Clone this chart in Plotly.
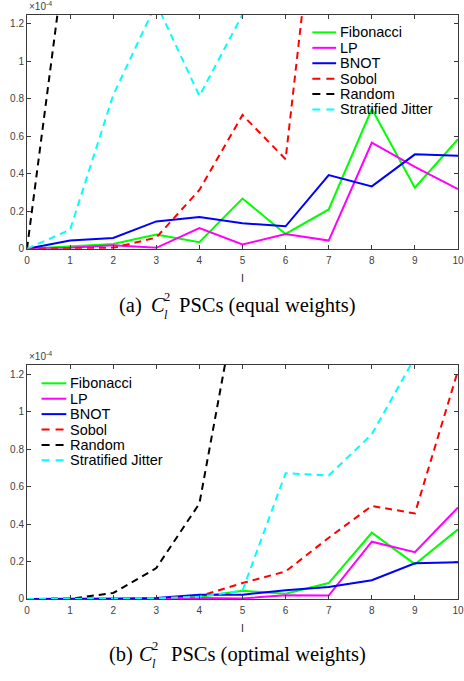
import plotly.graph_objects as go

# ---------------- data (values in units of 1e-4) ----------------
l_values = list(range(11))
series_names = ["Fibonacci", "LP", "BNOT", "Sobol", "Random", "Stratified Jitter"]
series_colors = ["#00FF00", "#FF00FF", "#0000FF", "#FF0000", "#000000", "#00FFFF"]
series_dashes = ["solid", "solid", "solid", "7px,5px", "7px,5px", "7px,5px"]

# (a) equal weights
fib_equal = [0, 0.012, 0.026, 0.076, 0.035, 0.268, 0.079, 0.21, 0.746, 0.326, 0.585]
lp_equal = [0, 0.005, 0.019, 0.005, 0.111, 0.023, 0.079, 0.044, 0.566, 0.437, 0.319]
bnot_equal = [0, 0.044, 0.058, 0.146, 0.169, 0.136, 0.12, 0.393, 0.333, 0.504, 0.497]
sobol_equal = [0, 0.001, 0.005, 0.06, 0.314, 0.714, 0.478, 2.51, None, None, None]
random_equal = [0, 1.77, None, None, None, None, None, None, None, None, None]
jitter_equal = [0, 0.102, 0.82, 1.31, 0.816, 1.25, None, None, None, None, None]

# (b) optimal weights
fib_opt = [0, 0, 0.001, 0.003, 0.01, 0.044, 0.028, 0.085, 0.354, 0.186, 0.372]
lp_opt = [0, 0, 0, 0.001, 0.005, 0.003, 0.02, 0.018, 0.306, 0.25, 0.489]
bnot_opt = [0, 0, 0.001, 0.005, 0.022, 0.023, 0.046, 0.064, 0.10, 0.191, 0.196]
sobol_opt = [0, 0, 0.001, 0.003, 0.015, 0.085, 0.147, 0.327, 0.497, 0.457, 1.221]
random_opt = [0, 0.001, 0.032, 0.165, 0.51, 1.76, None, None, None, None, None]
jitter_opt = [0, 0.001, 0.002, 0.004, 0.012, 0.045, 0.672, 0.66, 0.88, 1.29, None]

y_tickvals = [0, 0.2, 0.4, 0.6, 0.8, 1.0, 1.2]
y_ticktext = ["0", "0.2", "0.4", "0.6", "0.8", "1", "1.2"]

equal_series = [fib_equal, lp_equal, bnot_equal, sobol_equal, random_equal, jitter_equal]
opt_series = [fib_opt, lp_opt, bnot_opt, sobol_opt, random_opt, jitter_opt]

# ---------------- layout helpers ----------------
W, H = 464, 681
ML, MR = 27, 2
PW = W - ML - MR


def xp(px):
    return (px - ML) / PW


def yp(py):
    return (H - py) / H


fig = go.Figure()

for vals, name, col, dash in zip(equal_series, series_names, series_colors, series_dashes):
    fig.add_trace(go.Scatter(x=l_values, y=vals, mode="lines", name=name,
                             line=dict(color=col, width=2, dash=dash),
                             xaxis="x", yaxis="y", showlegend=False))
for vals, name, col, dash in zip(opt_series, series_names, series_colors, series_dashes):
    fig.add_trace(go.Scatter(x=l_values, y=vals, mode="lines", name=name,
                             line=dict(color=col, width=2, dash=dash),
                             xaxis="x2", yaxis="y2", showlegend=False))

axis_col = "#3a3a3a"
tick_font = dict(family="Liberation Sans", size=10, color="#404040")

xcommon = dict(range=[0, 10], tickvals=l_values, ticks="inside", ticklen=4,
               tickcolor=axis_col, showline=True, linecolor=axis_col, linewidth=1,
               mirror="ticks", showgrid=False, zeroline=False, tickfont=tick_font,
               ticklabeloverflow="allow", ticklabelstandoff=2,
               title=dict(text="l", font=dict(family="Liberation Sans", size=11, color="#262626"),
                          standoff=9))
ycommon = dict(range=[0, 1.25], tickvals=y_tickvals, ticktext=y_ticktext, ticks="inside",
               ticklen=4, tickcolor=axis_col, showline=True, linecolor=axis_col, linewidth=1,
               mirror="ticks", showgrid=False, zeroline=False, tickfont=tick_font)

fig.update_layout(
    width=W, height=H,
    margin=dict(l=ML, r=MR, t=0, b=0),
    paper_bgcolor="white", plot_bgcolor="white",
    showlegend=False,
    xaxis=dict(**xcommon, anchor="y"),
    yaxis=dict(**ycommon, domain=[yp(251), yp(14.7)], anchor="x"),
    xaxis2=dict(**xcommon, anchor="y2"),
    yaxis2=dict(**ycommon, domain=[yp(604.3), yp(368.3)], anchor="x2"),
)

shapes = []
annotations = []

# manual legends (compact MATLAB-style spacing)
legend_specs = [
    dict(x0=315, x1=339, xt=341, y0=32.7),
    dict(x0=41.7, x1=66.7, xt=68.5, y0=386.7),
]
for spec in legend_specs:
    for i, (name, col, dash) in enumerate(zip(series_names, series_colors, series_dashes)):
        py = spec["y0"] + 15.55 * i
        shapes.append(dict(type="line", xref="paper", yref="paper",
                           x0=xp(spec["x0"]), x1=xp(spec["x1"]), y0=yp(py), y1=yp(py),
                           line=dict(color=col, width=2,
                                     dash="solid" if dash == "solid" else "8px,6px")))
        annotations.append(dict(text=name, xref="paper", yref="paper", x=xp(spec["xt"]),
                                y=yp(py), xanchor="left", yanchor="middle", showarrow=False,
                                font=dict(family="Liberation Sans", size=14.5, color="black")))

# exponent labels
for ptop in [14.7, 368.3]:
    annotations.append(dict(text="×10<sup>-4</sup>", xref="paper", yref="paper",
                            x=xp(27), y=yp(ptop - 1), xanchor="left", yanchor="bottom",
                            showarrow=False,
                            font=dict(family="Liberation Sans", size=10, color="#404040")))

# captions
cap_font = dict(family="Liberation Serif", size=20.5, color="black")
small_font = dict(family="Liberation Serif", size=12.5, color="black")
captions = [
    dict(x_lab=118, lab="(a)", x_c=150, x_rest=178, rest="PSCs (equal weights)", yc=308),
    dict(x_lab=108, lab="(b)", x_c=138, x_rest=170, rest="PSCs (optimal weights)", yc=660),
]
for c in captions:
    annotations.append(dict(text=c["lab"], xref="paper", yref="paper", x=xp(c["x_lab"]),
                            y=yp(c["yc"]), xanchor="left", yanchor="middle",
                            showarrow=False, font=cap_font))
    annotations.append(dict(text="<i>C</i>", xref="paper", yref="paper", x=xp(c["x_c"]),
                            y=yp(c["yc"]), xanchor="left", yanchor="middle",
                            showarrow=False, font=cap_font))
    annotations.append(dict(text="2", xref="paper", yref="paper", x=xp(c["x_c"] + 13),
                            y=yp(c["yc"] + 1), xanchor="left", yanchor="bottom",
                            showarrow=False, font=small_font))
    annotations.append(dict(text="<i>l</i>", xref="paper", yref="paper", x=xp(c["x_c"] + 13),
                            y=yp(c["yc"] + 1), xanchor="left", yanchor="top",
                            showarrow=False, font=small_font))
    annotations.append(dict(text=c["rest"], xref="paper", yref="paper", x=xp(c["x_rest"]),
                            y=yp(c["yc"]), xanchor="left", yanchor="middle",
                            showarrow=False, font=cap_font))

fig.update_layout(shapes=shapes, annotations=annotations)

fig.write_html("out.html")
